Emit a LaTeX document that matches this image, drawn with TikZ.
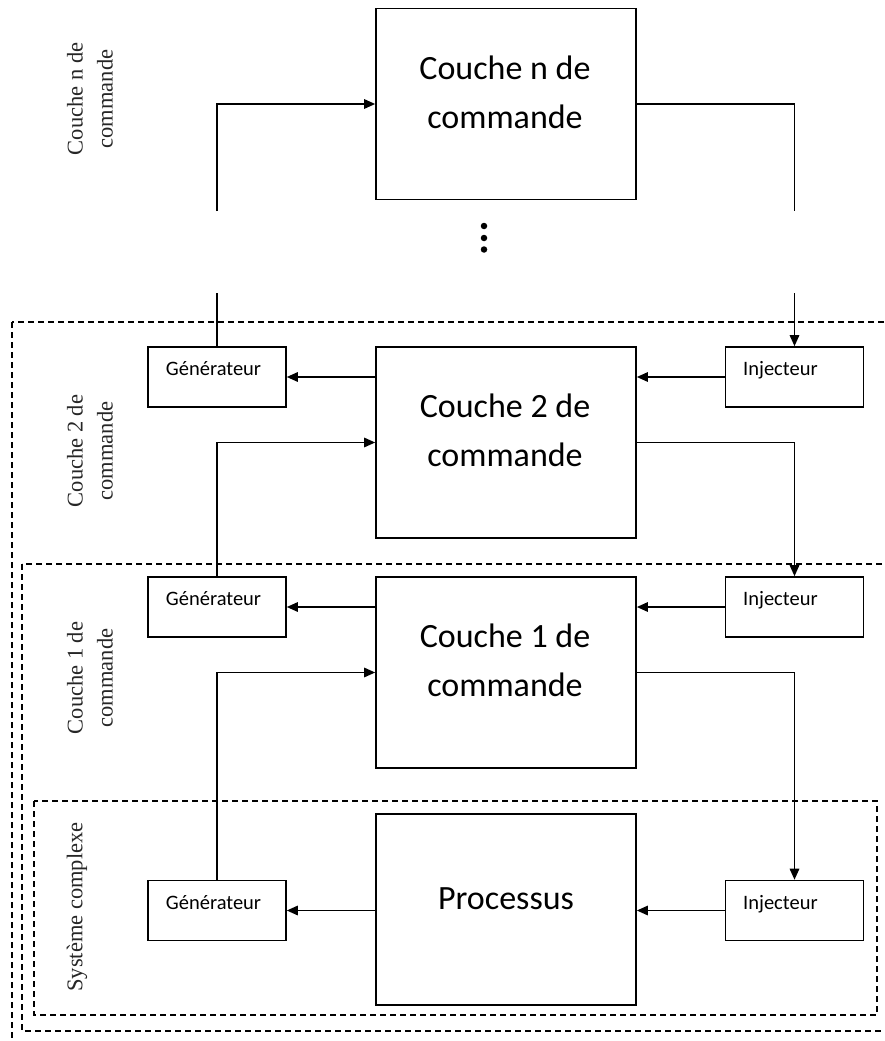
\documentclass[tikz,border=0pt]{standalone}
\usepackage{fontspec}
\setmainfont{Liberation Serif}
\setsansfont{Carlito}
\usetikzlibrary{arrows.meta}

\begin{document}
\begin{tikzpicture}[x=1pt,y=-1pt,
  bigbox/.style={draw,line width=1.7pt,minimum width=260pt,minimum height=191pt,inner sep=0pt},
  smallbox/.style={draw,line width=1.6pt,minimum width=138pt,minimum height=60pt,inner sep=0pt},
  bigtext/.style={font=\sffamily\fontsize{34}{49}\selectfont,align=center,anchor=base,inner sep=0pt},
  smalltext/.style={font=\sffamily\fontsize{20.5}{24}\selectfont,anchor=base,inner sep=0pt},
  layertext/.style={font=\rmfamily\fontsize{22.5}{30}\selectfont,align=center,rotate=90,inner sep=0pt,text=black!85},
  link/.style={line width=1.5pt},
  flow/.style={line width=1.5pt,-{Triangle[length=11pt,width=9.5pt]}},
  zone/.style={line width=1.3pt,dash pattern=on 6pt off 4pt},
  dot/.style={circle,fill,inner sep=0pt,minimum size=6.5pt}]

\clip (0,0) rectangle (884,1041);
\fill[white] (0,0) rectangle (884,1041);

% dashed zones
\draw[zone] (12,322) rectangle (900,1070);
\draw[zone] (22,564) rectangle (900,1031);
\draw[zone] (34,801) rectangle (877,1015);

% layer labels
\node[layertext] (ln) at (90,99) {Couche n de\\commande};
\node[layertext] (l2) at (90,451) {Couche 2 de\\commande};
\node[layertext] (l1) at (90,678) {Couche 1 de\\commande};
\node[layertext] (l0) at (77,907) {Système complexe};

% main blocks
\node[bigbox] (cn) at (506,104) {};
\node[bigbox] (c2) at (506,442.5) {};
\node[bigbox] (c1) at (506,672.5) {};
\node[bigbox] (p) at (506,909.5) {};

\node[bigtext] (tcn) at (505,128) {Couche n de\\commande};
\node[bigtext] (tc2) at (505,466) {Couche 2 de\\commande};
\node[bigtext] (tc1) at (505,696) {Couche 1 de\\commande};
\node[bigtext] (tp) at (506,909) {Processus};

% generators and injectors
\node[smallbox] (g2) at (217,377) {};
\node[smallbox] (i2) at (794.5,377) {};
\node[smallbox] (g1) at (217,607) {};
\node[smallbox] (i1) at (794.5,607) {};
\node[smallbox] (g0) at (217,910.5) {};
\node[smallbox] (i0) at (794.5,910.5) {};

\foreach \n/\y in {g2/375,g1/605,g0/909}{
  \node[smalltext] (t\n) at (213.5,\y) {Générateur};
}
\foreach \n/\y in {i2/375,i1/605,i0/909}{
  \node[smalltext,anchor=base west] (t\n) at (743,\y) {Injecteur};
}

% loose ends around the ellipsis
\coordinate (nl) at (217,211);
\coordinate (nr) at (794.5,211);
\coordinate (sl) at (217,293);
\coordinate (sr) at (794.5,293);

\node[dot] (d1) at (484,226) {};
\node[dot] (d2) at (484,238) {};
\node[dot] (d3) at (484,249.5) {};

% top layer
\draw[flow] (nl) |- (cn.west);
\draw[link] (cn.east) -| (nr);

% layer 2
\draw[link] (sl) -- (g2.north);
\draw[flow] (sr) -- (i2.north);
\draw[flow] (c2.west |- g2.east) -- (g2.east);
\draw[flow] (i2.west) -- (i2.west -| c2.east);
\draw[flow] (g1.north) |- (c2.west);
\draw[flow] (c2.east) -| (i1.north);

% layer 1
\draw[flow] (c1.west |- g1.east) -- (g1.east);
\draw[flow] (i1.west) -- (i1.west -| c1.east);
\draw[flow] (g0.north) |- (c1.west);
\draw[flow] (c1.east) -| (i0.north);

% process
\draw[flow] (p.west |- g0.east) -- (g0.east);
\draw[flow] (i0.west) -- (i0.west -| p.east);
\end{tikzpicture}
\end{document}
